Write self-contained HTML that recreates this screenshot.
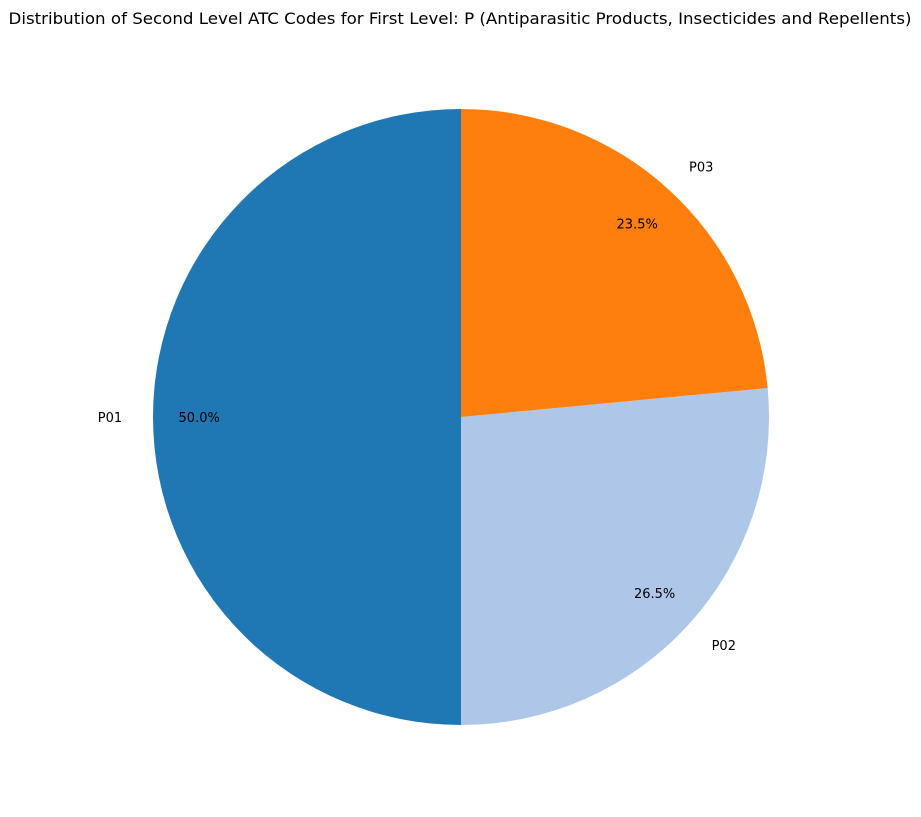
<!DOCTYPE html>
<html><head><meta charset="utf-8"><style>
body{margin:0;background:#fff;}
svg text{font-family:"DejaVu Sans","Liberation Sans",sans-serif;}
</style></head><body>
<svg id="chart" width="921" height="812">
<text x="460" y="24" text-anchor="middle" font-size="16" textLength="903" lengthAdjust="spacingAndGlyphs" fill="#000">Distribution of Second Level ATC Codes for First Level: P (Antiparasitic Products, Insecticides and Repellents)</text>
<g id="slices"></g>
</svg>
<script>
const labels=["P01","P02","P03"];
const values=[50.0,26.5,23.5];
const colors=["#1f77b4","#aec7e8","#ff7f0e"];
const cx=461,cy=417,r=308;
const g=document.getElementById('slices');
const ns="http://www.w3.org/2000/svg";
const total=values.reduce((a,b)=>a+b,0);
let ang=90;
function pt(a,rr){const t=a*Math.PI/180;return [cx+rr*Math.cos(t),cy-rr*Math.sin(t)];}
values.forEach((v,i)=>{
  const sweep=v/total*360;
  const a0=ang,a1=ang+sweep;
  const p0=pt(a0,r),p1=pt(a1,r);
  const path=document.createElementNS(ns,'path');
  path.setAttribute('d',`M${cx},${cy} L${p0[0]},${p0[1]} A${r},${r} 0 ${sweep>180?1:0} 0 ${p1[0]},${p1[1]} Z`);
  path.setAttribute('fill',colors[i]);
  
  
  g.appendChild(path);
  const mid=(a0+a1)/2;
  const lp=pt(mid,r*1.1);
  const c=Math.cos(mid*Math.PI/180);
  const lt=document.createElementNS(ns,'text');
  lt.setAttribute('x',lp[0]);lt.setAttribute('y',lp[1]+5);
  lt.setAttribute('font-size','13');
  lt.setAttribute('text-anchor',c<-0.01?'end':(c>0.01?'start':'middle'));
  lt.textContent=labels[i];
  
  
  g.appendChild(lt);
  const pp=pt(mid,r*0.85);
  const pt2=document.createElementNS(ns,'text');
  pt2.setAttribute('x',pp[0]);pt2.setAttribute('y',pp[1]+5);
  pt2.setAttribute('font-size','13');
  pt2.setAttribute('text-anchor','middle');
  pt2.textContent=(v/total*100).toFixed(1)+'%';
  
  
  g.appendChild(pt2);
  ang=a1;
});
</script>
</body></html>
